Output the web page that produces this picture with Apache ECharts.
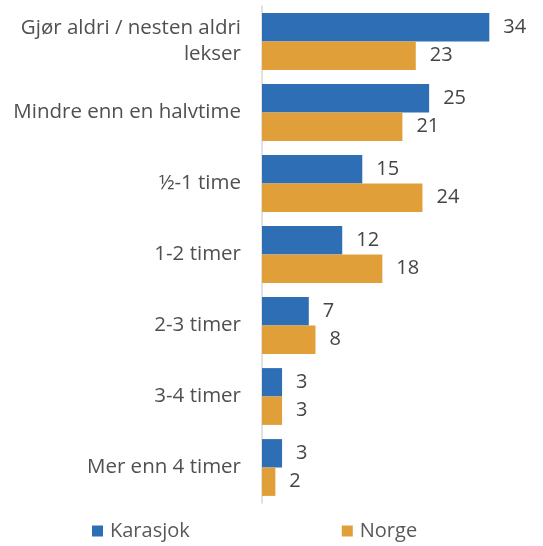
<!DOCTYPE html>
<html>
<head>
<meta charset="utf-8">
<script src="https://cdn.jsdelivr.net/npm/echarts@6/dist/echarts.min.js"></script>
<style>
  html, body { margin: 0; padding: 0; background: #ffffff; }
  #chart { width: 543px; height: 546px; }
</style>
</head>
<body>
<div id="chart"></div>
<script>
// Time spent on homework: share of pupils (%)
const categories = [
  'Gjør aldri / nesten aldri\nlekser',
  'Mindre enn en halvtime',
  '½-1 time',
  '1-2 timer',
  '2-3 timer',
  '3-4 timer',
  'Mer enn 4 timer'
];
const karasjok = [34, 25, 15, 12, 7, 3, 3];
const norge = [23, 21, 24, 18, 8, 3, 2];
const seriesNames = ['Karasjok', 'Norge'];

const FONT = '"Open Sans", Roboto, sans-serif';
const TEXT = '#454545';

const chart = echarts.init(document.getElementById('chart'), null, { renderer: 'canvas' });

const valueLabel = {
  show: true,
  position: 'right',
  distance: 14,
  color: TEXT,
  fontSize: 20,
  fontFamily: FONT
};

chart.setOption({
  animation: false,
  backgroundColor: '#ffffff',
  grid: { left: 262, right: 47, top: 6, bottom: 43, containLabel: false },
  legend: {
    bottom: 0,
    left: 87,
    itemGap: 152,
    itemWidth: 11,
    itemHeight: 11,
    icon: 'rect',
    textStyle: { color: '#595959', fontSize: 20, fontFamily: FONT, padding: [0, 0, 0, 2] },
    data: seriesNames
  },
  xAxis: {
    type: 'value',
    min: 0,
    max: 35,
    show: false
  },
  yAxis: {
    type: 'category',
    inverse: true,
    data: categories,
    axisLine: { show: true, lineStyle: { color: '#d9d9d9', width: 1.5 } },
    axisTick: { show: false },
    axisLabel: {
      color: '#505050',
      fontSize: 20.5,
      fontFamily: FONT,
      margin: 21,
      lineHeight: 26,
      align: 'right'
    }
  },
  series: [
    {
      name: seriesNames[0],
      type: 'bar',
      data: karasjok,
      barGap: '0%',
      barCategoryGap: '20%',
      itemStyle: { color: '#2E6EB5' },
      label: valueLabel
    },
    {
      name: seriesNames[1],
      type: 'bar',
      data: norge,
      barGap: '0%',
      barCategoryGap: '20%',
      itemStyle: { color: '#E09F38' },
      label: valueLabel
    }
  ]
});
</script>
</body>
</html>
